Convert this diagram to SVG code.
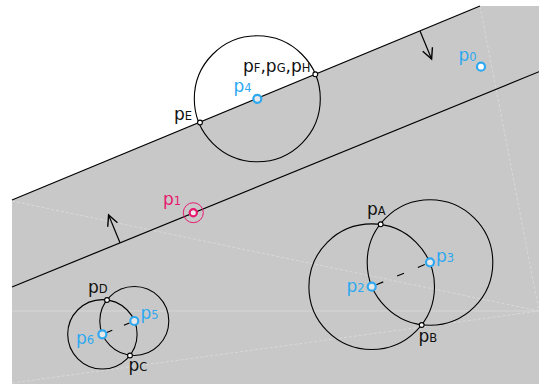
<svg xmlns="http://www.w3.org/2000/svg" width="539" height="384" viewBox="0 0 539 384">
<style>
.lbl{font-family:"DejaVu Sans","Liberation Sans",sans-serif;font-size:17px}
.sub{font-size:11.5px}
.blue{fill:#2ea8f0}
.pink{fill:#e8186e}
.blk{fill:#111}
.ln{stroke:#000;stroke-width:1.2;fill:none}
.circ{stroke:#000;stroke-width:1.1;fill:none}
.guide{stroke:#d9d9d9;stroke-width:1;stroke-dasharray:3 2;fill:none}
.pt{fill:#fff;stroke:#000;stroke-width:1.1}
.bp{fill:#e8e8e8;stroke:#2ea8f0;stroke-width:2.2}
.dash{stroke:#000;stroke-width:1.1}
</style>
<defs>
<marker id="ah" markerUnits="userSpaceOnUse" markerWidth="14" markerHeight="14" refX="0" refY="0" viewBox="-11 -6 12 12" orient="auto" overflow="visible">
<path d="M-9,-4.5 L0,0 L-9,4.5" fill="none" stroke="#000" stroke-width="1.2"/>
</marker>
</defs>
<rect width="539" height="384" fill="#fff"/>
<polygon points="12,200 480,6 539,6 539,384 12,384" fill="#c8c8c8"/>
<g id="guides">
<line class="guide" x1="12" y1="201" x2="539" y2="311"/>
<line x1="12" y1="311" x2="539" y2="311" stroke="#d6d6d6" stroke-width="1"/>
<line class="guide" x1="12" y1="383" x2="539" y2="311"/>
<line class="guide" x1="480" y1="6" x2="539" y2="311"/>
</g>
<g id="connectors">
<line class="ln" x1="12" y1="200" x2="480" y2="6"/>
<line class="ln" x1="12" y1="287" x2="539" y2="71.7"/>
<line class="ln" x1="420" y1="31" x2="431.6" y2="59" marker-end="url(#ah)"/>
<line class="ln" x1="120" y1="242.8" x2="108.6" y2="215" marker-end="url(#ah)"/>
<line class="dash" x1="371.7" y1="286.7" x2="430" y2="262.3" stroke-dasharray="7.5 15" stroke-dashoffset="17.5"/>
<line class="dash" x1="102.4" y1="334.3" x2="134.3" y2="321" stroke-dasharray="6 12.6" stroke-dashoffset="13.9"/>
</g>
<g id="circles">
<circle id="c4" class="circ" cx="257.3" cy="98.8" r="63"/>
<circle id="c2" class="circ" cx="371.7" cy="286.7" r="62.8"/>
<circle id="c3" class="circ" cx="430" cy="262.5" r="62.8"/>
<circle id="c6" class="circ" cx="102.4" cy="334.3" r="34.7"/>
<circle id="c5" class="circ" cx="134.3" cy="321" r="34.5"/>
</g>
<g id="pE"><circle class="pt" cx="200" cy="122.5" r="2.4"/><text class="lbl blk" x="174" y="119.5">p<tspan class="sub">E</tspan></text></g>
<g id="pFGH"><circle class="pt" cx="315.3" cy="74.3" r="2.4"/><text class="lbl blk" x="243" y="71.5">p<tspan class="sub">F</tspan>,p<tspan class="sub">G</tspan>,p<tspan class="sub">H</tspan></text></g>
<g id="pA"><circle class="pt" cx="380.7" cy="224.3" r="2.4"/><text class="lbl blk" x="367" y="215">p<tspan class="sub">A</tspan></text></g>
<g id="pB"><circle class="pt" cx="421.7" cy="325" r="2.4"/><text class="lbl blk" x="418.5" y="342">p<tspan class="sub">B</tspan></text></g>
<g id="pC"><circle class="pt" cx="130" cy="355.5" r="2.4"/><text class="lbl blk" x="128.5" y="371">p<tspan class="sub">C</tspan></text></g>
<g id="pD"><circle class="pt" cx="107" cy="300" r="2.4"/><text class="lbl blk" x="88" y="292.5">p<tspan class="sub">D</tspan></text></g>
<g id="p0"><circle class="bp" cx="481" cy="66.7" r="4" style="fill:#fff"/><text class="lbl blue" x="458.5" y="61">p<tspan class="sub">0</tspan></text></g>
<g id="p1"><circle cx="193.3" cy="212.7" r="10" fill="none" stroke="#e8186e" stroke-width="1"/><circle cx="193.3" cy="212.7" r="3.6" fill="#eee" stroke="#e8186e" stroke-width="2.2"/><text class="lbl pink" x="163" y="204.5">p<tspan class="sub">1</tspan></text></g>
<g id="p2"><circle class="bp" cx="371.7" cy="286.7" r="4"/><text class="lbl blue" x="346.5" y="292">p<tspan class="sub">2</tspan></text></g>
<g id="p3"><circle class="bp" cx="430" cy="262.3" r="4"/><text class="lbl blue" x="436" y="262">p<tspan class="sub">3</tspan></text></g>
<g id="p4"><circle class="bp" cx="257.3" cy="98.8" r="4"/><text class="lbl blue" x="233.5" y="91.5">p<tspan class="sub">4</tspan></text></g>
<g id="p5"><circle class="bp" cx="134.3" cy="321" r="4"/><text class="lbl blue" x="140.5" y="318.5">p<tspan class="sub">5</tspan></text></g>
<g id="p6"><circle class="bp" cx="102.4" cy="334.3" r="4"/><text class="lbl blue" x="76" y="343.5">p<tspan class="sub">6</tspan></text></g>
</svg>
